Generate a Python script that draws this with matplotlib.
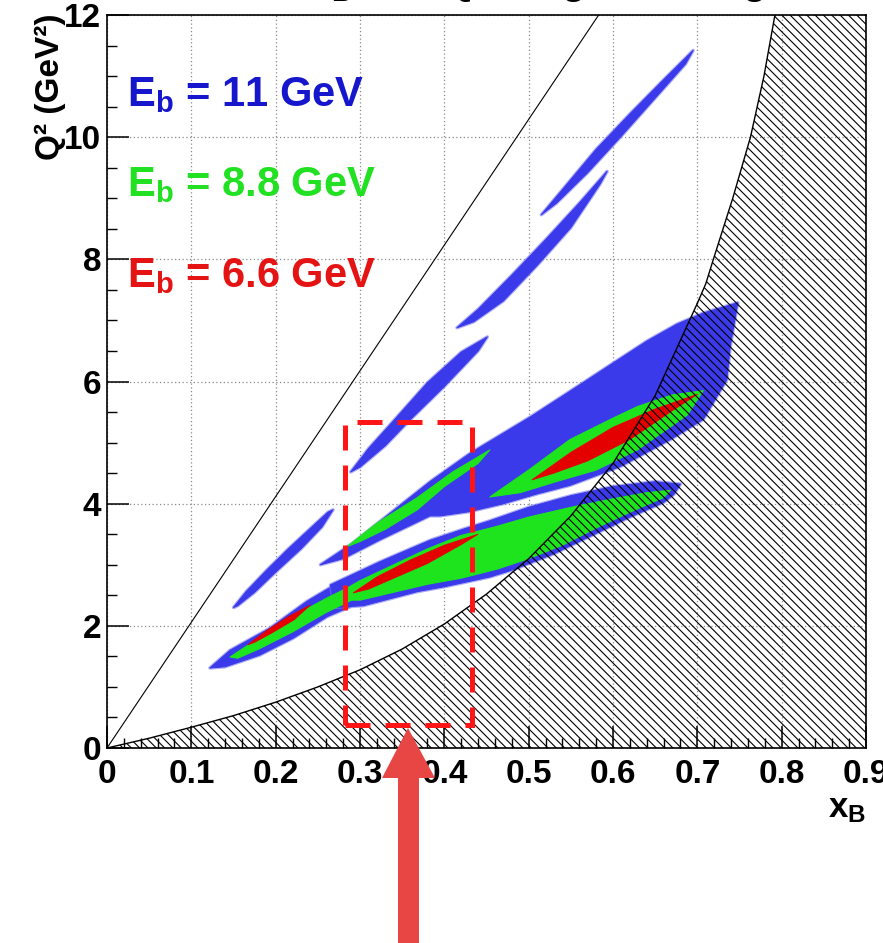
import matplotlib
matplotlib.use('Agg')
import matplotlib.pyplot as plt
from matplotlib.patches import Polygon, Rectangle
from matplotlib.ticker import MultipleLocator

plt.rcParams['font.family'] = ['Liberation Sans', 'DejaVu Sans']
plt.rcParams['font.weight'] = 'bold'
plt.rcParams['mathtext.fontset'] = 'custom'
plt.rcParams['mathtext.rm'] = 'Liberation Sans:bold'
plt.rcParams['mathtext.bf'] = 'Liberation Sans:bold'
plt.rcParams['mathtext.it'] = 'Liberation Sans:bold'
plt.rcParams['hatch.linewidth'] = 0.8

# colours of the three beam energies
blue = '#3a3aea'
green = '#1ee41e'
red = '#e50000'

# axis ticks
xticks = [0.0, 0.1, 0.2, 0.3, 0.4, 0.5, 0.6, 0.7, 0.8, 0.9]
xtick_labels = ['0', '0.1', '0.2', '0.3', '0.4', '0.5', '0.6', '0.7', '0.8', '0.9']
yticks = [0, 2, 4, 6, 8, 10, 12]
ytick_labels = ['0', '2', '4', '6', '8', '10', '12']

# kinematic limits
ymax_x = [0.0, 0.583]          # y = 1 line for 11 GeV
ymax_q2 = [0.0, 12.0]
w_x = [0.0, 0.05, 0.10, 0.15, 0.20, 0.25, 0.30, 0.35, 0.40, 0.45, 0.50, 0.55, 0.60, 0.65, 0.70]
w_q2 = [0.0, 0.16, 0.34, 0.53, 0.75, 1.00, 1.28, 1.62, 2.03, 2.52, 3.10, 3.80, 4.66, 5.77, 7.28]
cut_x = [0.70, 0.71, 0.719, 0.742, 0.763, 0.779, 0.792]
cut_q2 = [7.28, 7.60, 8.00, 9.00, 10.00, 11.00, 12.00]

# 11 GeV (blue) acceptance regions
s1_x = [0.150, 0.165, 0.190, 0.215, 0.240, 0.262, 0.268, 0.255, 0.230, 0.200, 0.175, 0.155]
s1_y = [2.30, 2.56, 2.92, 3.26, 3.58, 3.86, 3.90, 3.62, 3.26, 2.88, 2.55, 2.33]
s3_x = [0.289, 0.310, 0.340, 0.380, 0.420, 0.451, 0.440, 0.400, 0.360, 0.330, 0.300]
s3_y = [4.52, 4.90, 5.36, 5.98, 6.48, 6.73, 6.50, 5.92, 5.38, 4.95, 4.60]
s4_x = [0.415, 0.440, 0.480, 0.520, 0.560, 0.593, 0.585, 0.550, 0.510, 0.470, 0.435]
s4_y = [6.88, 7.18, 7.74, 8.32, 8.92, 9.44, 9.24, 8.52, 7.90, 7.32, 6.98]
s5_x = [0.515, 0.540, 0.580, 0.620, 0.660, 0.695, 0.686, 0.650, 0.610, 0.570, 0.533]
s5_y = [8.73, 9.14, 9.80, 10.38, 10.94, 11.42, 11.20, 10.64, 10.02, 9.42, 8.92]
l1_x = [0.122, 0.146, 0.193, 0.237, 0.276, 0.288, 0.261, 0.221, 0.181, 0.140]
l1_y = [1.31, 1.60, 1.96, 2.40, 2.72, 2.31, 2.15, 1.80, 1.52, 1.33]
m_x = [0.265, 0.324, 0.383, 0.422, 0.454, 0.500, 0.550, 0.600, 0.650, 0.680,
       0.672, 0.660, 0.620, 0.581, 0.530, 0.482, 0.454, 0.400, 0.368, 0.304, 0.270]
m_y = [2.67, 3.05, 3.40, 3.58, 3.72, 3.94, 4.13, 4.28, 4.36, 4.32,
       4.15, 4.02, 3.78, 3.52, 3.18, 2.92, 2.80, 2.64, 2.56, 2.33, 2.30]
big_x = [0.253, 0.290, 0.330, 0.383, 0.430, 0.466, 0.502, 0.549, 0.600, 0.640, 0.676, 0.707, 0.748,
         0.739, 0.735, 0.707, 0.668, 0.609, 0.549, 0.510, 0.470, 0.430, 0.395, 0.383, 0.324, 0.280]
big_y = [3.00, 3.34, 3.78, 4.36, 4.82, 5.12, 5.42, 5.84, 6.30, 6.66, 6.94, 7.12, 7.29,
         6.57, 6.03, 5.38, 5.05, 4.61, 4.30, 4.16, 4.00, 3.87, 3.80, 3.80, 3.41, 3.10]

# 8.8 GeV (green)
g1_x = [0.146, 0.180, 0.220, 0.260, 0.285, 0.290, 0.260, 0.220, 0.180, 0.155]
g1_y = [1.49, 1.80, 2.15, 2.45, 2.62, 2.42, 2.22, 1.90, 1.62, 1.47]
gm_x = [0.270, 0.300, 0.340, 0.380, 0.420, 0.460, 0.500, 0.550, 0.600, 0.640, 0.668,
        0.660, 0.620, 0.580, 0.540, 0.500, 0.463, 0.420, 0.380, 0.340, 0.300, 0.280]
gm_y = [2.50, 2.74, 3.00, 3.26, 3.48, 3.62, 3.78, 3.94, 4.08, 4.18, 4.22,
        4.10, 3.86, 3.60, 3.32, 3.10, 2.93, 2.78, 2.68, 2.55, 2.42, 2.42]
gu_x = [0.285, 0.320, 0.368, 0.410, 0.454, 0.440, 0.400, 0.368, 0.330, 0.300]
gu_y = [3.30, 3.68, 4.10, 4.52, 4.88, 4.66, 4.28, 3.90, 3.58, 3.38]
g3_x = [0.454, 0.500, 0.549, 0.600, 0.629, 0.670, 0.707, 0.688, 0.629, 0.580, 0.530, 0.490]
g3_y = [4.11, 4.55, 5.05, 5.40, 5.59, 5.78, 5.85, 5.45, 4.88, 4.55, 4.35, 4.18]

# 6.6 GeV (red)
r1_x = [0.167, 0.190, 0.215, 0.241, 0.222, 0.195, 0.175]
r1_y = [1.69, 1.93, 2.15, 2.34, 2.10, 1.88, 1.73]
r2_x = [0.292, 0.320, 0.360, 0.400, 0.440, 0.420, 0.380, 0.340, 0.310]
r2_y = [2.54, 2.80, 3.08, 3.32, 3.50, 3.33, 3.02, 2.78, 2.60]
r3_x = [0.504, 0.550, 0.600, 0.650, 0.700, 0.670, 0.620, 0.570, 0.530]
r3_y = [4.39, 4.84, 5.25, 5.55, 5.79, 5.52, 5.05, 4.70, 4.50]

fig = plt.figure(figsize=(8.83, 9.43), dpi=100)
ax = fig.add_axes([107 / 883, 1 - 748 / 943, 759 / 883, 733 / 943])

blue_regions = [(s1_x, s1_y), (s3_x, s3_y), (s4_x, s4_y), (s5_x, s5_y),
                (l1_x, l1_y), (m_x, m_y), (big_x, big_y)]
green_regions = [(g1_x, g1_y), (gm_x, gm_y), (gu_x, gu_y), (g3_x, g3_y)]
red_regions = [(r1_x, r1_y), (r2_x, r2_y), (r3_x, r3_y)]

# soft, speckled-looking rim first, then the solid fill
for xs, ys in blue_regions:
    ax.fill(xs, ys, facecolor='none', edgecolor='#7a7af2', lw=2.5, alpha=0.6,
            joinstyle='round', zorder=2)
    ax.fill(xs, ys, color=blue, lw=0.8, joinstyle='round', zorder=2)
for xs, ys in green_regions:
    ax.fill(xs, ys, color=green, lw=0.8, joinstyle='round', zorder=3)
for xs, ys in red_regions:
    ax.fill(xs, ys, color=red, lw=0.6, joinstyle='round', zorder=4)

# excluded region (hatched)
hx = w_x + cut_x[1:] + [0.9, 0.9]
hy = w_q2 + cut_q2[1:] + [12.0, 0.0]
ax.fill(hx, hy, facecolor='none', edgecolor='black', hatch='\\\\\\\\', lw=0, zorder=5)
ax.plot(w_x, w_q2, color='black', lw=1.0, zorder=6)
ax.plot(cut_x, cut_q2, color='black', lw=1.0, zorder=6)
ax.plot(ymax_x, ymax_q2, color='black', lw=0.8, zorder=6)

# dashed box
ax.add_patch(Rectangle((0.2825, 0.38), 0.1505, 4.96, fill=False, edgecolor='#ff1515',
                       lw=3.6, ls=(0, (5, 3)), zorder=8))

ax.text(0.024, 10.51, r'$\mathbf{E_b}$ = 11 GeV', color='#1616cc', fontsize=30, va='baseline', zorder=9)
ax.text(0.024, 9.03, r'$\mathbf{E_b}$ = 8.8 GeV', color='#22e022', fontsize=30, va='baseline', zorder=9)
ax.text(0.024, 7.54, r'$\mathbf{E_b}$ = 6.6 GeV', color='#e51414', fontsize=30, va='baseline', zorder=9)

ax.set_xlim(0, 0.9)
ax.set_ylim(0, 12)
ax.set_xticks(xticks)
ax.set_xticklabels(xtick_labels)
ax.set_yticks(yticks)
ax.set_yticklabels(ytick_labels)
ax.xaxis.set_minor_locator(MultipleLocator(0.02))
ax.yaxis.set_minor_locator(MultipleLocator(0.5))
ax.tick_params(which='major', direction='in', length=15.5, width=1.1, labelsize=24)
ax.tick_params(axis='x', which='major', pad=8)
ax.tick_params(axis='y', which='major', pad=4)
ax.tick_params(which='minor', direction='in', length=7, width=1.0)
ax.grid(True, which='major', color='#8a8a8a', ls=(0, (1, 2)), lw=0.9)
ax.set_axisbelow(True)
for sp in ax.spines.values():
    sp.set_linewidth(1.2)

fig.text(50 / 883, 1 - 14 / 943, 'Q² (GeV²)', rotation=90, ha='center', va='top', fontsize=24)
fig.text(866 / 883, 1 - 808 / 943, r'$\mathbf{x_B}$', ha='right', va='center', fontsize=25)
# slide title, mostly cut off at the top edge
fig.text(230 / 883, 1.0 + 5 / 943, r'Full x$_\mathbf{B}$ and Q$^\mathbf{2}$ range coverage',
         ha='left', va='baseline', fontsize=28, color='black')

# big red arrow under the box (pixel coordinates -> inches)
arrow_px = [(408, 728), (382, 778), (398, 778), (398, 943), (419, 943), (419, 778), (435, 778)]
arrow_in = [(px / 100, (943 - py) / 100) for px, py in arrow_px]
fig.add_artist(Polygon(arrow_in, closed=True, transform=fig.dpi_scale_trans,
                       facecolor='#e84545', edgecolor='none', zorder=10))

fig.savefig('out.png', dpi=100)
